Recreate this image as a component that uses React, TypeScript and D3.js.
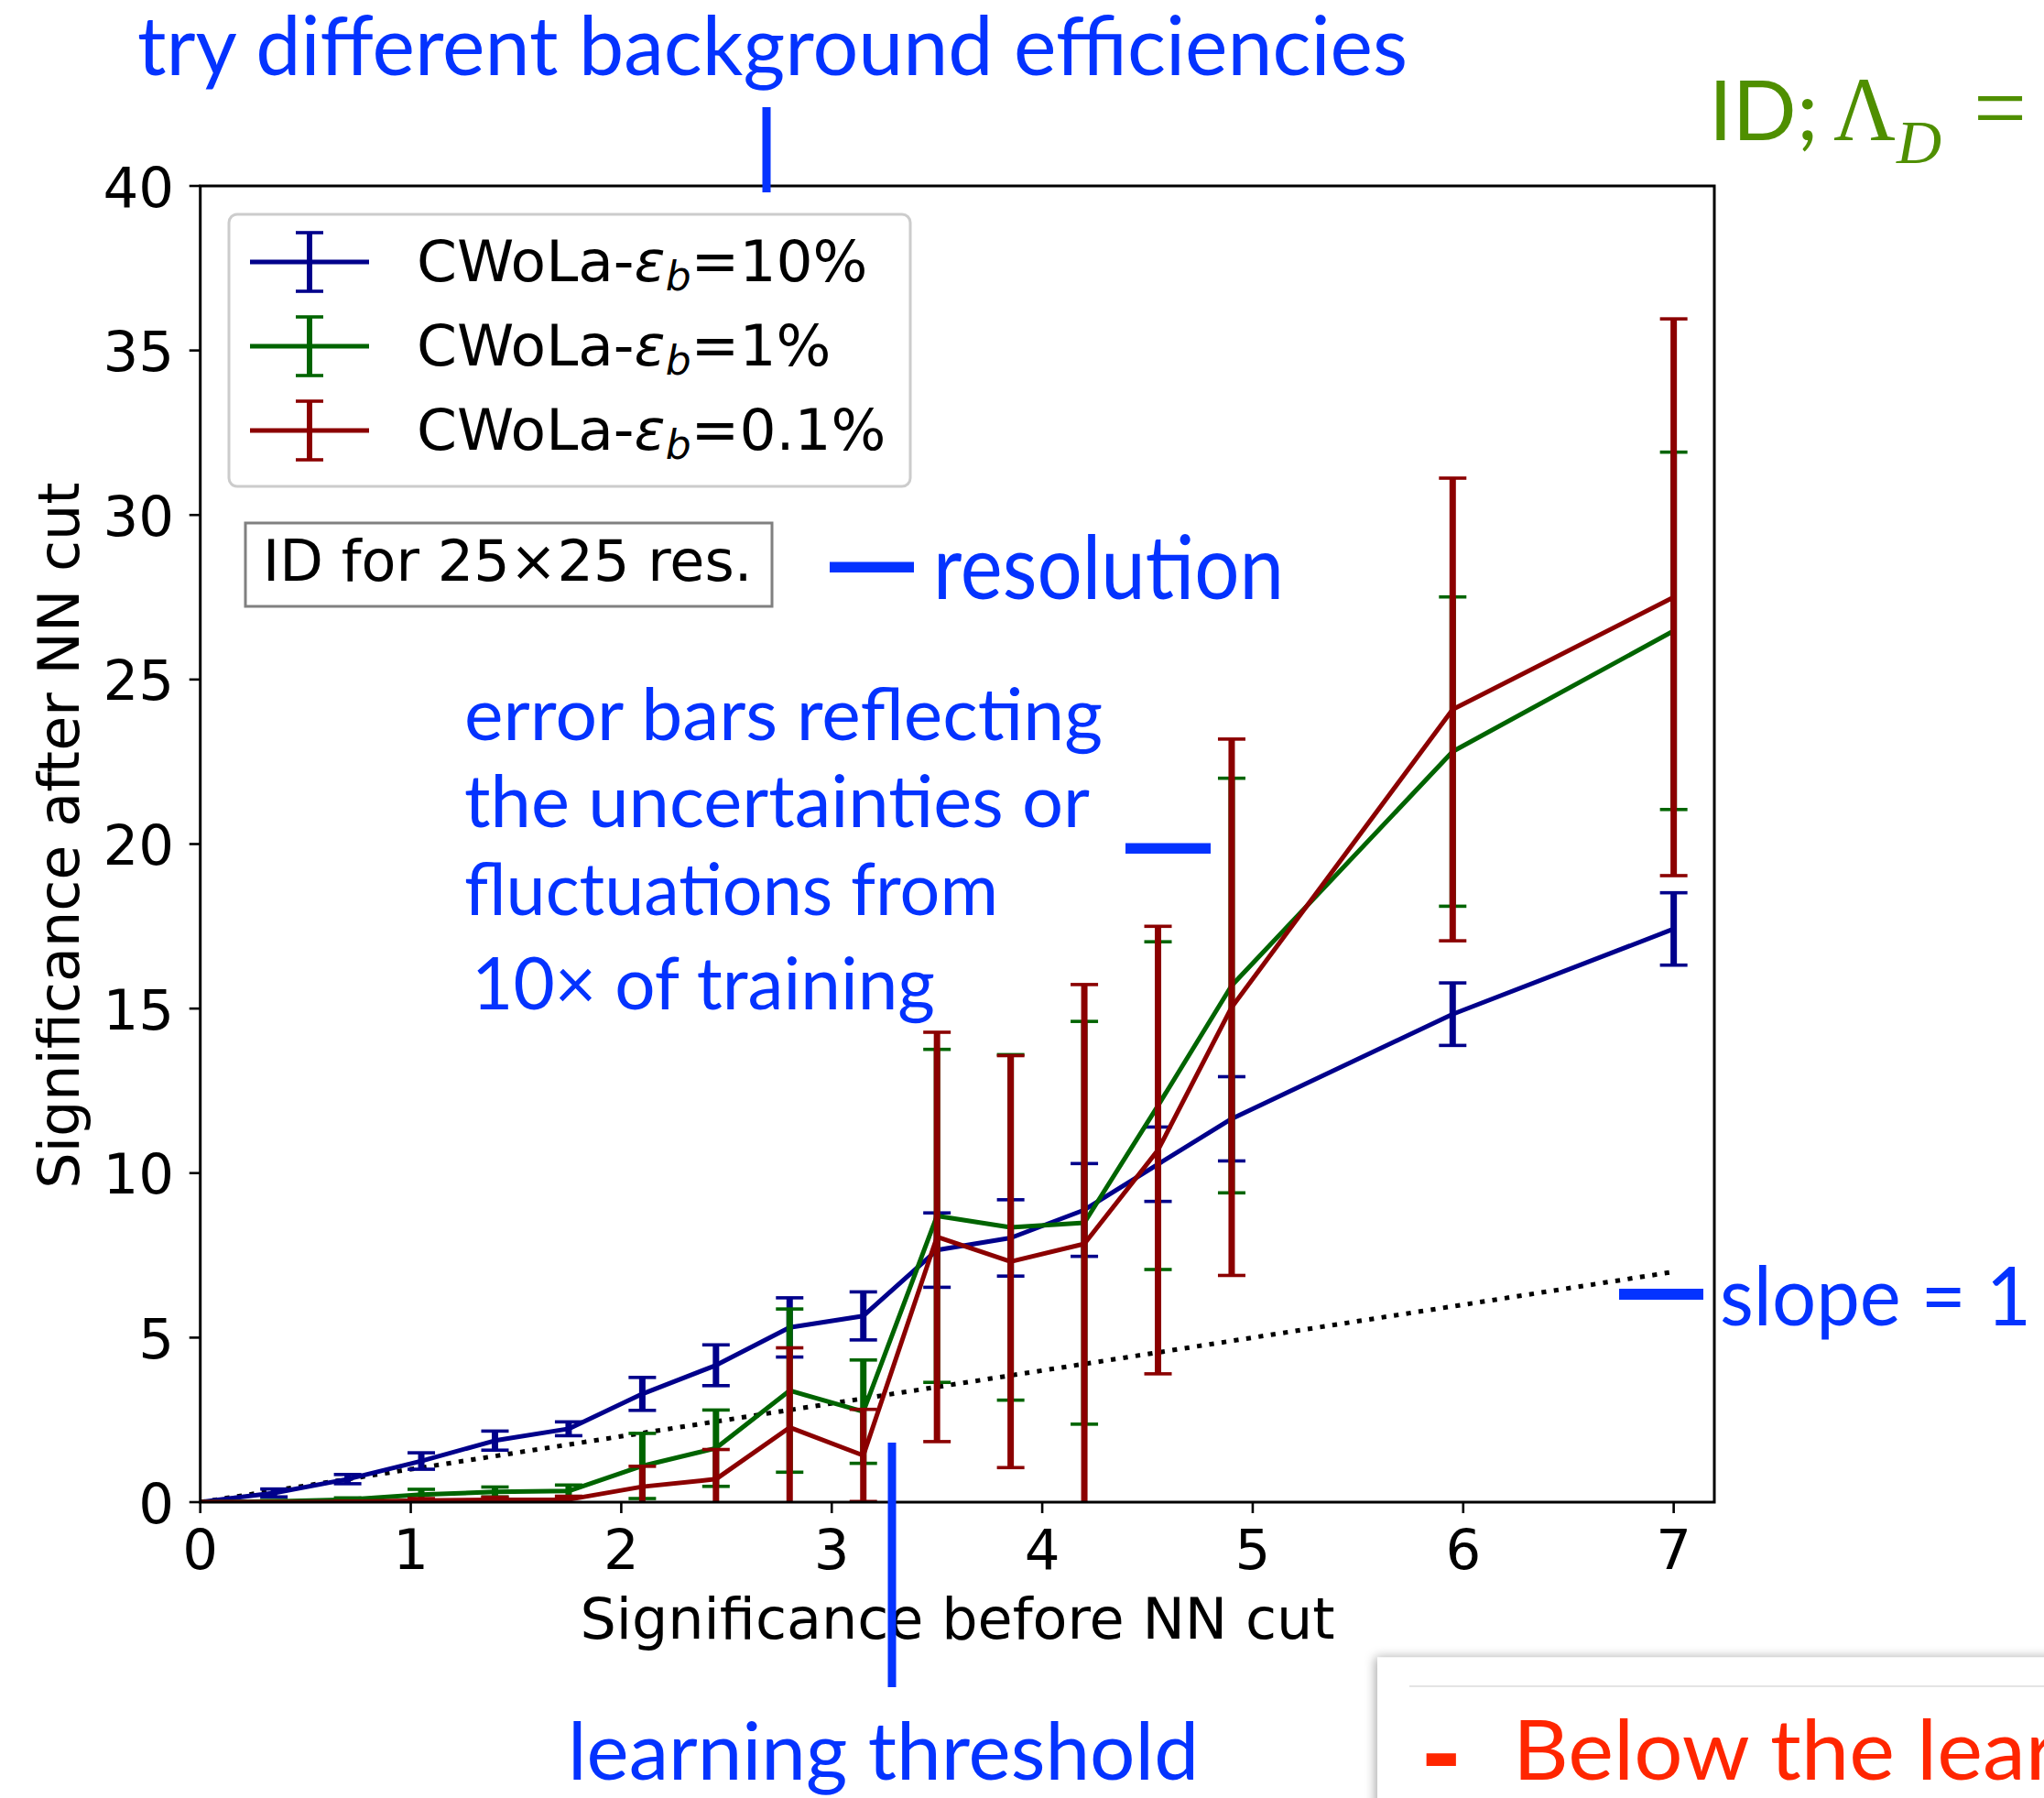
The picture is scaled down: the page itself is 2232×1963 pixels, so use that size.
import React from 'react';
import * as d3 from 'd3';

// Significance before the NN cut (x) for every training point
const sigBefore = [0, 0.35, 0.7, 1.05, 1.4, 1.75, 2.1, 2.45, 2.8, 3.15, 3.5, 3.85, 4.2, 4.55, 4.9, 5.95, 7.0];

// Significance after the NN cut, with symmetric errors from repeated trainings
const sigAfter10 = [0, 0.28, 0.7, 1.25, 1.87, 2.23, 3.29, 4.16, 5.31, 5.66, 7.66, 8.03, 8.88, 10.27, 11.65, 14.83, 17.42];
const err10 = [0, 0.12, 0.14, 0.25, 0.29, 0.21, 0.5, 0.62, 0.9, 0.73, 1.13, 1.16, 1.41, 1.13, 1.28, 0.95, 1.1];

const sigAfter1 = [0, 0.02, 0.08, 0.23, 0.31, 0.34, 1.1, 1.64, 3.39, 2.75, 8.7, 8.35, 8.49, 12.05, 15.7, 22.81, 26.48];
const err1 = [0, 0.03, 0.05, 0.16, 0.15, 0.18, 0.99, 1.16, 2.48, 1.57, 5.06, 5.25, 6.12, 4.98, 6.3, 4.7, 5.43];

const sigAfter01 = [0, 0.0, 0.01, 0.05, 0.07, 0.08, 0.47, 0.7, 2.27, 1.42, 8.06, 7.31, 7.85, 10.7, 15.04, 24.09, 27.5];
const err01 = [0, 0.01, 0.02, 0.06, 0.08, 0.1, 0.62, 0.9, 2.42, 1.4, 6.22, 6.26, 7.88, 6.8, 8.15, 7.03, 8.46];

const seriesLabels = ['10%', '1%', '0.1%'];
const seriesColors = ['#00008b', '#006400', '#8b0000'];

const xTicks = [0, 1, 2, 3, 4, 5, 6, 7];
const yTicks = [0, 5, 10, 15, 20, 25, 30, 35, 40];
const slopeLine = [0, 7];

const W = 2232;
const H = 1963;
const plot = { left: 218.7, right: 1872, top: 203, bottom: 1640 };

const x = d3.scaleLinear().domain([0, 7.193]).range([plot.left, plot.right]);
const y = d3.scaleLinear().domain([0, 40]).range([plot.bottom, plot.top]);

const BLUE = '#0433FF';
const GREEN = '#4F8F00';
const RED = '#FF2600';
const MPL = 'DejaVu Sans, sans-serif';
const ANNO = 'Lato, "Open Sans", sans-serif';
const SERIF = '"Liberation Serif", "DejaVu Serif", serif';

const line = d3
  .line<[number, number]>()
  .x((d) => x(d[0]))
  .y((d) => y(d[1]));

const series = [
  { values: sigAfter10, errors: err10 },
  { values: sigAfter1, errors: err1 },
  { values: sigAfter01, errors: err01 },
].map((s, i) => ({ ...s, label: seriesLabels[i], color: seriesColors[i] }));

const CAP = 15;

function ErrorSeries({ values, errors, color }: { values: number[]; errors: number[]; color: string }) {
  const pts: [number, number][] = sigBefore.map((v, i) => [v, values[i]]);
  return (
    <g>
      <path d={line(pts) || ''} fill="none" stroke={color} strokeWidth={5} strokeLinejoin="round" />
      {sigBefore.map((v, i) => {
        const e = errors[i];
        if (!e) return null;
        const cx = x(v);
        const lo = y(values[i] - e);
        const hi = y(values[i] + e);
        return (
          <g key={i} stroke={color}>
            <line x1={cx} x2={cx} y1={lo} y2={hi} strokeWidth={7} />
            <line x1={cx - CAP} x2={cx + CAP} y1={hi} y2={hi} strokeWidth={3.6} />
            <line x1={cx - CAP} x2={cx + CAP} y1={lo} y2={lo} strokeWidth={3.6} />
          </g>
        );
      })}
    </g>
  );
}

export default function App() {
  const legendRows = [286, 378, 470];
  return (
    <svg
      width={W}
      height={H}
      viewBox={`0 0 ${W} ${H}`}
      style={{ position: 'absolute', left: 0, top: 0, background: '#fff' }}
    >
      <defs>
        <clipPath id="plotClip">
          <rect x={plot.left} y={plot.top} width={plot.right - plot.left} height={plot.bottom - plot.top} />
        </clipPath>
        <filter id="boxShadow" x="-10%" y="-20%" width="130%" height="160%">
          <feDropShadow dx={-2} dy={0} stdDeviation={6} floodColor="#000" floodOpacity={0.35} />
        </filter>
      </defs>
      <rect x={0} y={0} width={W} height={H} fill="#fff" />

      {/* data */}
      <g clipPath="url(#plotClip)">
        <path
          d={line(slopeLine.map((v) => [v, v] as [number, number])) || ''}
          fill="none"
          stroke="#000"
          strokeWidth={5}
          strokeDasharray="5.2 8.4"
        />
        {series.map((s, i) => (
          <ErrorSeries key={i} values={s.values} errors={s.errors} color={s.color} />
        ))}
      </g>

      {/* frame */}
      <rect
        x={plot.left}
        y={plot.top}
        width={plot.right - plot.left}
        height={plot.bottom - plot.top}
        fill="none"
        stroke="#000"
        strokeWidth={3}
      />

      {/* x axis */}
      {xTicks.map((t) => (
        <g key={t}>
          <line x1={x(t)} x2={x(t)} y1={plot.bottom} y2={plot.bottom + 12} stroke="#000" strokeWidth={2.6} />
          <text x={x(t)} y={1713} textAnchor="middle" fontFamily={MPL} fontSize={61} fill="#000">
            {t}
          </text>
        </g>
      ))}
      <text x={(628 + 1463) / 2} y={1789} textAnchor="middle" fontFamily={MPL} fontSize={62} fill="#000">
        Significance before NN cut
      </text>

      {/* y axis */}
      {yTicks.map((t) => (
        <g key={t}>
          <line x1={plot.left - 12} x2={plot.left} y1={y(t)} y2={y(t)} stroke="#000" strokeWidth={2.6} />
          <text x={190} y={y(t) + 22.5} textAnchor="end" fontFamily={MPL} fontSize={61} fill="#000">
            {t}
          </text>
        </g>
      ))}
      <text
        transform={`translate(86, 912) rotate(-90)`}
        textAnchor="middle"
        fontFamily={MPL}
        fontSize={62}
        fill="#000"
      >
        Significance after NN cut
      </text>

      {/* legend */}
      <rect x={250} y={234} width={744} height={297} rx={9} fill="#fff" fillOpacity={0.8} stroke="#cccccc" strokeWidth={3} />
      {series.map((s, i) => {
        const cy = legendRows[i];
        return (
          <g key={i}>
            <line x1={273} x2={403} y1={cy} y2={cy} stroke={s.color} strokeWidth={5.2} />
            <line x1={338} x2={338} y1={cy - 32} y2={cy + 32} stroke={s.color} strokeWidth={6} />
            <line x1={338 - CAP} x2={338 + CAP} y1={cy - 32} y2={cy - 32} stroke={s.color} strokeWidth={3.6} />
            <line x1={338 - CAP} x2={338 + CAP} y1={cy + 32} y2={cy + 32} stroke={s.color} strokeWidth={3.6} />
            <text x={455} y={cy + 21} fontFamily={MPL} fontSize={63} fill="#000">
              CWoLa-
              <tspan fontStyle="italic">ε</tspan>
              <tspan fontStyle="italic" fontSize={44} dy={10}>
                b
              </tspan>
              <tspan dy={-10}>={s.label}</tspan>
            </text>
          </g>
        );
      })}

      {/* resolution box */}
      <rect x={268} y={571} width={575} height={91} fill="#fff" stroke="#808080" strokeWidth={3} />
      <text x={287} y={634} fontFamily={MPL} fontSize={62} fill="#000">
        ID for 25×25 res.
      </text>

      {/* annotations */}
      <text x={150} y={82} fontFamily={ANNO} fontSize={90} fill={BLUE} textLength={1387} lengthAdjust="spacingAndGlyphs">
        try different background efficiencies
      </text>
      <rect x={832.5} y={117} width={9} height={93} fill={BLUE} />

      <text x={1866} y={153} fontFamily={ANNO} fontSize={92} fill={GREEN}>
        ID;
      </text>
      <text x={2002} y={153} fontFamily={SERIF} fontSize={100} fill={GREEN} textLength={68} lengthAdjust="spacingAndGlyphs">
        Λ
      </text>
      <text x={2071} y={178} fontFamily={SERIF} fontStyle="italic" fontSize={68} fill={GREEN}>
        D
      </text>
      <text x={2155} y={153} fontFamily={SERIF} fontSize={103} fill={GREEN}>
        =
      </text>

      <rect x={906} y={613.5} width={92} height={11.5} fill={BLUE} />
      <text x={1019} y={654} fontFamily={ANNO} fontSize={96} fill={BLUE} textLength={383} lengthAdjust="spacingAndGlyphs">
        resolution
      </text>

      <g fontFamily={ANNO} fontSize={80} fill={BLUE}>
        <text x={507} y={808} textLength={697} lengthAdjust="spacingAndGlyphs">
          error bars reflecting
        </text>
        <text x={507} y={903} textLength={683} lengthAdjust="spacingAndGlyphs">
          the uncertainties or
        </text>
        <text x={507} y={999} textLength={583} lengthAdjust="spacingAndGlyphs">
          fluctuations from
        </text>
        <text x={515} y={1102} textLength={506} lengthAdjust="spacingAndGlyphs">
          10× of training
        </text>
      </g>
      <rect x={1229} y={920.5} width={93} height={11.5} fill={BLUE} />

      <rect x={1768} y={1407} width={92} height={12} fill={BLUE} />
      <text x={1878} y={1447} fontFamily={ANNO} fontSize={90} fill={BLUE} textLength={340} lengthAdjust="spacingAndGlyphs">
        slope = 1
      </text>

      <rect x={969.5} y={1575} width={9} height={267} fill={BLUE} />
      <text x={620} y={1943} fontFamily={ANNO} fontSize={88} fill={BLUE} textLength={689} lengthAdjust="spacingAndGlyphs">
        learning threshold
      </text>

      {/* note panel */}
      <rect x={1504} y={1809.5} width={800} height={300} fill="#fff" filter="url(#boxShadow)" />
      <line x1={1539} x2={W} y1={1841} y2={1841} stroke="#e4e4e4" strokeWidth={2} />
      <text x={1551} y={1958} fontFamily={ANNO} fontWeight={900} fontSize={122} fill={RED}>
        -
      </text>
      <text x={1652} y={1943} fontFamily={ANNO} fontSize={91} fill={RED} textLength={1185} lengthAdjust="spacingAndGlyphs">
        Below the learning threshold
      </text>
    </svg>
  );
}
